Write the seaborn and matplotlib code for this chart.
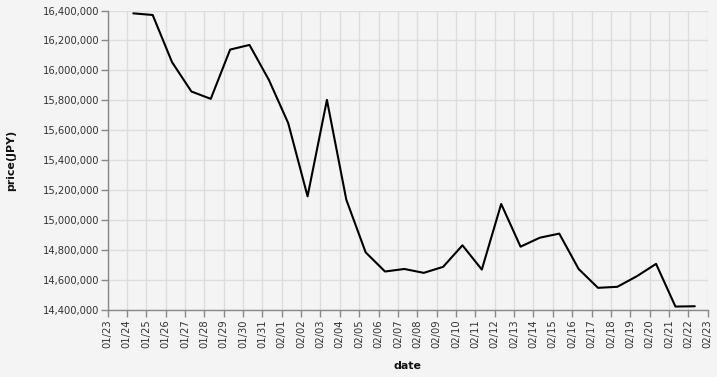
import matplotlib
matplotlib.use("Agg")
import matplotlib.pyplot as plt
import matplotlib.dates as mdates
import matplotlib.ticker as mticker
import pandas as pd
import seaborn as sns

dates = pd.date_range("2025-01-24 08:00", "2025-02-22 08:00", freq="D")
prices = [16381000, 16370000, 16055000, 15859000, 15810000, 16139000, 16170000,
          15937000, 15648000, 15159000, 15803000, 15137000, 14785000, 14657000,
          14674000, 14648000, 14688000, 14832000, 14670000, 15108000, 14823000,
          14883000, 14910000, 14674000, 14548000, 14555000, 14625000, 14708000,
          14423000, 14425000]

df = pd.DataFrame({"date": dates, "price": prices})

bg = "#f4f4f4"
sns.set_theme(style="whitegrid")
plt.rcParams["font.family"] = ["DejaVu Sans"]

W, H = 717, 377
x0, x1, y0, y1 = 107.5, 707.7, 10.5, 310
fig = plt.figure(figsize=(W / 100, H / 100), dpi=100, facecolor=bg)
ax = fig.add_axes([x0 / W, 1 - y1 / H, (x1 - x0) / W, (y1 - y0) / H])
ax.set_facecolor(bg)

sns.lineplot(data=df, x="date", y="price", ax=ax, color="black", linewidth=1.5)

ax.set_xlim(pd.Timestamp("2025-01-23"), pd.Timestamp("2025-02-23"))
ax.set_ylim(14400000, 16400000)
ax.xaxis.set_major_locator(mdates.DayLocator())
ax.xaxis.set_major_formatter(mdates.DateFormatter("%m/%d"))
ax.yaxis.set_major_locator(mticker.MultipleLocator(200000))
ax.yaxis.set_major_formatter(mticker.FuncFormatter(lambda v, p: f"{int(round(v)):,}"))

ax.grid(True, color="#dddddd", linewidth=1)
for s in ["top", "right"]:
    ax.spines[s].set_visible(False)
for s in ["left", "bottom"]:
    ax.spines[s].set_visible(True)
    ax.spines[s].set_color("#888888")
    ax.spines[s].set_linewidth(1)

ax.tick_params(axis="both", which="major", length=5, width=1, color="#888888",
               labelsize=7.2, labelcolor="#333333", pad=2, bottom=True, left=True)
ax.tick_params(axis="y", pad=1)
plt.setp(ax.get_xticklabels(), rotation=90)

ax.set_xlabel("date", fontsize=7.9, fontweight="bold", color="#111111")
ax.set_ylabel("price(JPY)", fontsize=7.9, fontweight="bold", color="#111111")
ax.yaxis.set_label_coords((11.5 - x0) / (x1 - x0), (y1 - 160) / (y1 - y0))
ax.yaxis.label.set_va("center")
ax.xaxis.set_label_coords((407.5 - x0) / (x1 - x0), (y1 - 366) / (y1 - y0))
ax.xaxis.label.set_va("center")

fig.savefig("out.png", dpi=100, facecolor=bg)
